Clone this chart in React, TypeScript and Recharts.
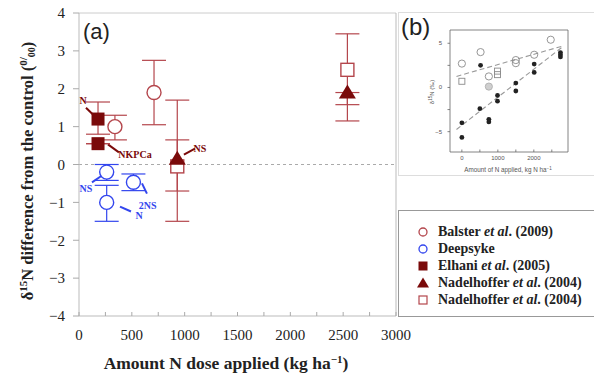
import React from 'react';
import { ScatterChart, Scatter, XAxis, YAxis, ErrorBar, ReferenceLine, ReferenceDot } from 'recharts';

// ---------- Main panel (a) data ----------
const balsterX = [340, 710];
const balsterY = [1.0, 1.9];
const balsterErr = [[0.35, 0.3], [0.85, 0.85]];

const deepX = [262, 262, 515];
const deepY = [-0.2, -1.0, -0.47];
const deepErr = [[0.22, 0.2], [0.5, 0.45], [0.22, 0.22]];

const elhaniX = [180, 180];
const elhaniY = [1.2, 0.55];
const elhaniErr = [[0.4, 0.45], [0, 0]];

const nadTriX = [930, 2540];
const nadTriY = [0.15, 1.9];
const nadTriErr = [[0.85, 0.5], [0.75, 0]];

const nadSqX = [930, 2540];
const nadSqY = [-0.05, 2.5];
const nadSqErr = [[1.45, 1.75], [0.92, 0.95]];

const xTicks = [0, 250, 500, 750, 1000, 1250, 1500, 1750, 2000, 2250, 2500, 2750, 3000];
const yTicks = [-4, -3, -2, -1, 0, 1, 2, 3, 4];

const legendLabels = [
  ['Balster ', 'et al', '. (2009)'],
  ['Deepsyke', '', ''],
  ['Elhani ', 'et al', '. (2005)'],
  ['Nadelhoffer ', 'et al', '. (2004)'],
  ['Nadelhoffer ', 'et al', '. (2004)'],
];

// annotations: [text, x, y, color]
const annoTexts = [
  ['N', 38, 1.69, 'red'],
  ['NKPCa', 530, 0.26, 'red'],
  ['NS', 1145, 0.42, 'red'],
  ['NS', 66, -0.63, 'blue'],
  ['2NS', 650, -1.08, 'blue'],
  ['N', 568, -1.35, 'blue'],
];
const annoLines = [
  [66, 1.5, 132, 1.32, 'red'],
  [274, 0.53, 378, 0.32, 'red'],
  [993, 0.26, 1097, 0.42, 'red'],
  [123, -0.47, 218, -0.29, 'blue'],
  [596, -0.5, 643, -0.77, 'blue'],
  [388, -1.11, 492, -1.24, 'blue'],
];

// ---------- Inset panel (b) data ----------
const inCircX = [0, 520, 750, 1500, 1500, 2010, 2470];
const inCircY = [2.7, 4.0, 1.25, 3.1, 2.75, 3.7, 5.4];
const inGrayX = [750];
const inGrayY = [0.1];
const inSqX = [0, 990, 990];
const inSqY = [0.7, 1.85, 1.45];
const inDotX = [520, 0, 0, 500, 750, 750, 990, 990, 1500, 1500, 2010, 2010, 2740, 2740, 2740];
const inDotY = [2.5, -4.0, -5.65, -2.4, -3.6, -3.9, -0.9, -1.55, 0.5, -0.4, 2.65, 1.7, 3.95, 3.7, 3.45];
const inLineUpper = [[-150, 1.25], [2815, 4.7]];
const inLineLower = [[-150, -4.75], [2800, 4.6]];
const inXTicks = [0, 500, 1000, 1500, 2000, 2500];
const inYTicks = [-5, -2.5, 0, 2.5, 5];

// ---------- styles ----------
const MAROON = '#7a0a0a';
const LRED = '#b4464c';
const BLUE = '#3346ee';
const SERIF = '"Liberation Serif", "Times New Roman", Times, "DejaVu Serif", serif';
const SANS = '"Liberation Sans", Arial, sans-serif';

const rows = (xs: number[], ys: number[], errs?: number[][]) =>
  xs.map((x, i) => ({ x, y: ys[i], err: errs ? errs[i] : [0, 0] }));

const openCircle = (color: string) => (p: any) => (
  <circle cx={p.cx} cy={p.cy} r={7} fill="#fff" stroke={color} strokeWidth={1.4} />
);
const filledSquare = (p: any) => (
  <rect x={p.cx - 6.5} y={p.cy - 6.5} width={13} height={13} fill={MAROON} />
);
const openSquare = (p: any) => (
  <rect x={p.cx - 6.5} y={p.cy - 6.5} width={13} height={13} fill="#fff" stroke={LRED} strokeWidth={1.4} />
);
const triangle = (p: any) => (
  <polygon points={`${p.cx},${p.cy - 8} ${p.cx - 8.5},${p.cy + 6} ${p.cx + 8.5},${p.cy + 6}`} fill={MAROON} />
);

const MainXTick = (props: any) => {
  const { x, y, payload } = props;
  const v = payload.value;
  return (
    <g>
      <line x1={x} x2={x} y1={y} y2={y - 4} stroke="#aaa" />
      {v % 500 === 0 && (
        <text x={x} y={y + 24} textAnchor="middle" fontFamily={SERIF} fontSize={15} fill="#222">
          {v}
        </text>
      )}
    </g>
  );
};

const InXTick = (props: any) => {
  const { x, y, payload } = props;
  const v = payload.value;
  return (
    <g>
      <line x1={x} x2={x} y1={y} y2={y - 2.5} stroke="#666" strokeWidth={0.8} />
      {v % 1000 === 0 && (
        <text x={x} y={y + 8} textAnchor="middle" fontFamily={SANS} fontSize={6} fill="#555">
          {v}
        </text>
      )}
    </g>
  );
};

const InYTick = (props: any) => {
  const { x, y, payload } = props;
  const v = payload.value;
  const lbl = v === 5 ? '5' : v === 0 ? '0' : v === -5 ? '\u22125' : '';
  return (
    <g>
      <line x1={x} x2={x - 2.5} y1={y} y2={y} stroke="#666" strokeWidth={0.8} />
      {lbl && (
        <text x={x - 8} y={y} textAnchor="end" dominantBaseline="central" fontFamily={SANS} fontSize={6} fill="#555">
          {lbl}
        </text>
      )}
    </g>
  );
};

const annoColor = (c: string) => (c === 'red' ? MAROON : BLUE);

function MainChart() {
  return (
    <ScatterChart width={594} height={376} margin={{ top: 13, right: 198, bottom: 0, left: 0 }}>
      <XAxis
        type="number"
        dataKey="x"
        domain={[0, 3000]}
        ticks={xTicks}
        interval={0}
        height={60}
        tickSize={0}
        tickMargin={0}
        tickLine={false}
        axisLine={{ stroke: '#bbb' }}
        tick={<MainXTick />}
        allowDataOverflow
      />
      <YAxis
        type="number"
        dataKey="y"
        domain={[-4, 4]}
        ticks={yTicks}
        interval={0}
        width={79}
        tickSize={6}
        tickMargin={8}
        tickLine={{ stroke: '#aaa' }}
        axisLine={{ stroke: '#bbb' }}
        tick={{ fontFamily: SERIF, fontSize: 15, fill: '#222' }}
        tickFormatter={(v: number) => (v < 0 ? '\u2212' + Math.abs(v) : String(v))}
        allowDataOverflow
      />
      <ReferenceLine y={4} stroke="#ccc" />
      <ReferenceLine x={3000} stroke="#bbb" />
      <ReferenceLine y={0} stroke="#aaa" strokeDasharray="3 3" />

      {annoLines.map((l, i) => (
        <ReferenceLine
          key={'al' + i}
          segment={[{ x: l[0] as number, y: l[1] as number }, { x: l[2] as number, y: l[3] as number }]}
          stroke={annoColor(l[4] as string)}
          strokeWidth={2}
        />
      ))}
      {annoTexts.map((t, i) => (
        <ReferenceDot
          key={'at' + i}
          x={t[1] as number}
          y={t[2] as number}
          r={0}
          shape={(p: any) => (
            <text
              x={p.cx}
              y={p.cy}
              textAnchor="middle"
              dominantBaseline="central"
              fontFamily={SERIF}
              fontWeight="bold"
              fontSize={10}
              fill={annoColor(t[3] as string)}
            >
              {t[0]}
            </text>
          )}
        />
      ))}

      <Scatter data={rows(nadSqX, nadSqY, nadSqErr)} shape={openSquare} isAnimationActive={false}>
        <ErrorBar dataKey="err" direction="y" width={12} stroke={LRED} strokeWidth={1.2} />
      </Scatter>
      <Scatter data={rows(nadTriX, nadTriY, nadTriErr)} shape={triangle} isAnimationActive={false}>
        <ErrorBar dataKey="err" direction="y" width={12} stroke={LRED} strokeWidth={1.2} />
      </Scatter>
      <Scatter data={rows(balsterX, balsterY, balsterErr)} shape={openCircle(LRED)} isAnimationActive={false}>
        <ErrorBar dataKey="err" direction="y" width={12} stroke={LRED} strokeWidth={1.2} />
      </Scatter>
      <Scatter data={rows(elhaniX, elhaniY, elhaniErr)} shape={filledSquare} isAnimationActive={false}>
        <ErrorBar dataKey="err" direction="y" width={12} stroke={LRED} strokeWidth={1.2} />
      </Scatter>
      <Scatter data={rows(deepX, deepY, deepErr)} shape={openCircle(BLUE)} isAnimationActive={false}>
        <ErrorBar dataKey="err" direction="y" width={12} stroke={BLUE} strokeWidth={1.2} />
      </Scatter>
    </ScatterChart>
  );
}

const inOpenCircle = (p: any) => <circle cx={p.cx} cy={p.cy} r={3.6} fill="none" stroke="#8a8a8a" strokeWidth={0.9} />;
const inGrayCircle = (p: any) => <circle cx={p.cx} cy={p.cy} r={3.6} fill="#cfcfcf" stroke="#aaa" strokeWidth={0.8} />;
const inOpenSquare = (p: any) => <rect x={p.cx - 3} y={p.cy - 3} width={6} height={6} fill="none" stroke="#8a8a8a" strokeWidth={0.9} />;
const inDot = (p: any) => <circle cx={p.cx} cy={p.cy} r={2.4} fill="#222" />;

function InsetChart() {
  return (
    <ScatterChart width={196} height={164} margin={{ top: 18, right: 26, bottom: 0, left: 0 }}>
      <XAxis
        type="number"
        dataKey="x"
        domain={[-330, 2950]}
        ticks={inXTicks}
        interval={0}
        height={24}
        tickSize={0}
        tickMargin={0}
        tickLine={false}
        axisLine={{ stroke: '#666', strokeWidth: 0.8 }}
        tick={<InXTick />}
        allowDataOverflow
      />
      <YAxis
        type="number"
        dataKey="y"
        domain={[-7.3, 6.5]}
        ticks={inYTicks}
        interval={0}
        width={52}
        tickSize={0}
        tickMargin={0}
        tickLine={false}
        axisLine={{ stroke: '#666', strokeWidth: 0.8 }}
        tick={<InYTick />}
        allowDataOverflow
      />
      <ReferenceLine y={6.5} stroke="#666" strokeWidth={0.8} />
      <ReferenceLine x={2950} stroke="#666" strokeWidth={0.8} />
      <ReferenceLine
        segment={[{ x: inLineUpper[0][0], y: inLineUpper[0][1] }, { x: inLineUpper[1][0], y: inLineUpper[1][1] }]}
        stroke="#999"
        strokeDasharray="5 3"
        strokeWidth={1.1}
      />
      <ReferenceLine
        segment={[{ x: inLineLower[0][0], y: inLineLower[0][1] }, { x: inLineLower[1][0], y: inLineLower[1][1] }]}
        stroke="#999"
        strokeDasharray="5 3"
        strokeWidth={1.1}
      />
      <Scatter data={rows(inCircX, inCircY)} shape={inOpenCircle} isAnimationActive={false} />
      <Scatter data={rows(inGrayX, inGrayY)} shape={inGrayCircle} isAnimationActive={false} />
      <Scatter data={rows(inSqX, inSqY)} shape={inOpenSquare} isAnimationActive={false} />
      <Scatter data={rows(inDotX, inDotY)} shape={inDot} isAnimationActive={false} />
    </ScatterChart>
  );
}

const LegendMarker = ({ i }: { i: number }) => {
  const c = 7;
  let m: React.ReactNode = null;
  if (i === 0) m = <circle cx={c} cy={c} r={4} fill="#fff" stroke={LRED} strokeWidth={1.3} />;
  if (i === 1) m = <circle cx={c} cy={c} r={4} fill="#fff" stroke={BLUE} strokeWidth={1.3} />;
  if (i === 2) m = <rect x={c - 4.5} y={c - 4.5} width={9} height={9} fill={MAROON} />;
  if (i === 3) m = <polygon points={`${c},${c - 5.5} ${c - 6},${c + 4.5} ${c + 6},${c + 4.5}`} fill={MAROON} />;
  if (i === 4) m = <rect x={c - 4} y={c - 4} width={8} height={8} fill="#fff" stroke={LRED} strokeWidth={1.2} />;
  return (
    <svg width={14} height={14} style={{ position: 'absolute', left: -7, top: -7 }}>
      {m}
    </svg>
  );
};

export default function App() {
  return (
    <div style={{ position: 'absolute', left: 0, top: 0, width: 594, height: 376, background: '#fff', overflow: 'hidden' }}>
      <div style={{ position: 'absolute', left: 0, top: 0 }}>
        <MainChart />
      </div>

      {/* inset frame */}
      <div style={{ position: 'absolute', left: 398, top: 12, width: 200, height: 164, border: '1px solid #ddd', boxSizing: 'border-box' }} />
      <div style={{ position: 'absolute', left: 398, top: 12 }}>
        <InsetChart />
      </div>

      {/* legend */}
      <div style={{ position: 'absolute', left: 398, top: 210, width: 204, height: 107, border: '1.5px solid #999', boxSizing: 'border-box', background: '#fff' }} />
      {legendLabels.map((l, i) => (
        <div key={i} style={{ position: 'absolute', left: 423, top: 232 + i * 17 }}>
          <LegendMarker i={i} />
          <div
            style={{
              position: 'absolute',
              left: 15,
              top: -9,
              whiteSpace: 'nowrap',
              fontFamily: SERIF,
              fontWeight: 'bold',
              fontSize: 14,
              lineHeight: '18px',
              color: '#222',
            }}
          >
            {l[0]}
            {l[1] && <i>{l[1]}</i>}
            {l[2]}
          </div>
        </div>
      ))}

      {/* titles & axis labels */}
      <svg width={594} height={376} style={{ position: 'absolute', left: 0, top: 0, pointerEvents: 'none' }}>
        <text x={83} y={39} fontFamily={SANS} fontSize={22} fill="#222">(a)</text>
        <text x={401} y={35} fontFamily={SANS} fontSize={24} fill="#222">(b)</text>
        <text x={226} y={369} textAnchor="middle" fontFamily={SERIF} fontWeight="bold" fontSize={17.5} fill="#222">
          Amount N dose applied (kg ha
          <tspan dy={-6} fontSize={11}>{'\u22121'}</tspan>
          <tspan dy={6}>)</tspan>
        </text>
        <text
          transform="translate(33,171) rotate(-90)"
          textAnchor="middle"
          fontFamily={SERIF}
          fontWeight="bold"
          fontSize={16.5}
          fill="#222"
        >
          δ<tspan dy={-6} fontSize={11}>15</tspan>
          <tspan dy={6}>N difference from the control (</tspan>
          <tspan dy={-6} fontSize={11}>0</tspan>
          <tspan dy={0} fontSize={11}>/</tspan>
          <tspan dy={8} fontSize={10}>00</tspan>
          <tspan dy={-2}>)</tspan>
        </text>
        <text
          transform="translate(434,92) rotate(-90)"
          textAnchor="middle"
          fontFamily={SANS}
          fontSize={6}
          fill="#555"
        >
          δ<tspan dy={-2} fontSize={4.5}>15</tspan>
          <tspan dy={2}>N (‰)</tspan>
        </text>
        <text x={508} y={172} textAnchor="middle" fontFamily={SANS} fontSize={6.3} fill="#555">
          Amount of N applied, kg N ha<tspan dy={-2} fontSize={4.5}>{'\u22121'}</tspan>
        </text>
      </svg>
    </div>
  );
}
